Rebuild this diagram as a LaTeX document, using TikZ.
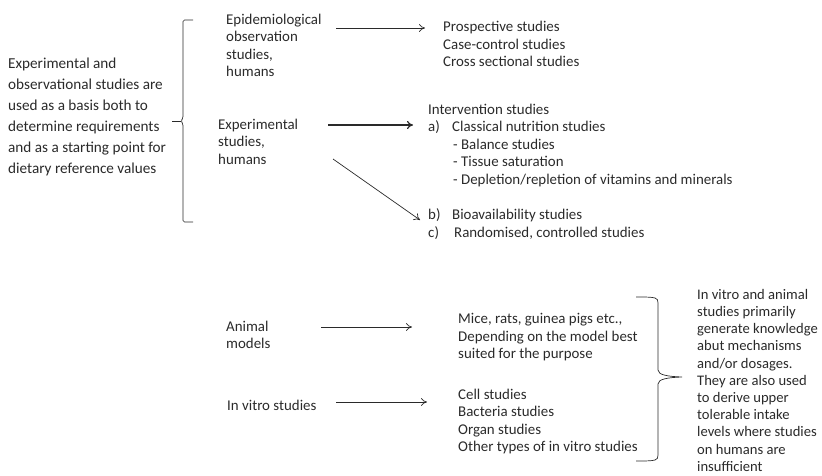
\documentclass[tikz,border=0pt]{standalone}
\usepackage{fontspec}
\setmainfont{Carlito}
\usetikzlibrary{arrows.meta}
\definecolor{ink}{HTML}{2A2A2A}
\tikzset{
  txt/.style={anchor=north west, inner sep=0pt, align=left, text=ink,
    font=\fontsize{14.9bp}{17.5bp}\selectfont},
  sidetxt/.style={txt, font=\fontsize{14.6bp}{17.2bp}\selectfont},
  bigtxt/.style={txt, font=\fontsize{15.2bp}{21bp}\selectfont},
  arr/.style={draw=ink, line width=0.7pt, -{To[length=6pt,width=8pt]}},
  thickarr/.style={arr, line width=1.2pt},
  brace/.style={draw=ink, line width=0.7pt}
}
\begin{document}
\begin{tikzpicture}[x=1bp,y=-1bp]
\useasboundingbox (0,0) rectangle (822,476);
% texts
\node[bigtxt] (main) at (8,58) {Experimental and\\observational studies are\\used as a basis both to\\determine requirements\\and as a starting point for\\dietary reference values};
\node[txt] (epi) at (226,13.5) {Epidemiological\\observation\\studies,\\humans};
\node[txt] (exp) at (218,118.5) {Experimental\\studies,\\humans};
\node[txt] (obs) at (443,21) {Prospective studies\\Case-control studies\\Cross sectional studies};
\node[txt] (int) at (428,103.5) {Intervention studies\\\makebox[24bp][l]{a)}Classical nutrition studies\\\hspace*{25bp}- Balance studies\\\hspace*{25bp}- Tissue saturation\\\hspace*{25bp}- Depletion/repletion of vitamins and minerals};
\node[txt] (bc) at (428,208.5) {\makebox[24bp][l]{b)}Bioavailability studies\\\makebox[26bp][l]{c)}Randomised, controlled studies};
\node[txt] (animal) at (226,320.5) {Animal\\models};
\node[txt] (vitro) at (227,399.5) {In vitro studies};
\node[txt] (mice) at (458,313.5) {Mice, rats, guinea pigs etc.,\\Depending on the model best\\suited for the purpose};
\node[txt] (cell) at (458,388.5) {Cell studies\\Bacteria studies\\Organ studies\\Other types of in vitro studies};
\node[sidetxt] (summ) at (697,289) {In vitro and animal\\studies primarily\\generate knowledge\\abut mechanisms\\and/or dosages.\\They are also used\\to derive upper\\tolerable intake\\levels where studies\\on humans are\\insufficient};
% arrow ends
\coordinate (e1s) at (336,28);  \coordinate (e1t) at (425,28);
\coordinate (e2s) at (328,125); \coordinate (e2t) at (413,125);
\coordinate (e3s) at (333,159); \coordinate (e3t) at (420,220);
\coordinate (e4s) at (321,327); \coordinate (e4t) at (412,327);
\coordinate (e5s) at (336,402); \coordinate (e5t) at (427,402);
\draw[arr] (e1s) -- (e1t);
\draw[thickarr] (e2s) -- (e2t);
\draw[arr] (e3s) -- (e3t);
\draw[arr] (e4s) -- (e4t);
\draw[arr] (e5s) -- (e5t);
% left brace
\draw[brace, rounded corners=1.5bp] (193,20) -- (183,20) -- (183,118) -- (181,121) -- (183,124) -- (183,222) -- (193,222);
\draw[brace] (172,121) -- (181,121);
% right brace
\draw[brace] (636,297) .. controls (645,297) and (652,297) .. (655,298) .. controls (657.5,299) and (658,300) .. (658,303) -- (658,370)
  .. controls (658,375) and (668,376.5) .. (682,377)
  .. controls (668,377.5) and (658,379) .. (658,384) -- (658,455)
  .. controls (658,458) and (657.5,459) .. (655,460) .. controls (652,461) and (645,461) .. (636,461);
\end{tikzpicture}
\end{document}
